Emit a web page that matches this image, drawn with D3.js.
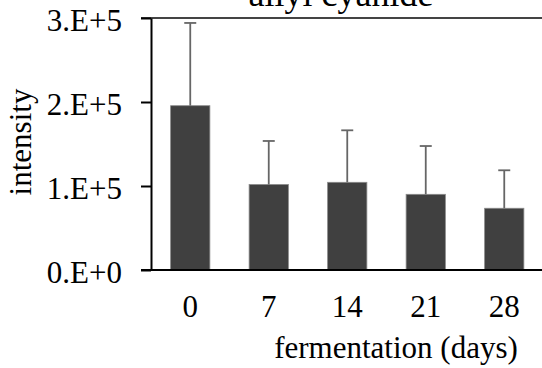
<!DOCTYPE html>
<html>
<head>
<meta charset="utf-8">
<script src="https://cdn.jsdelivr.net/npm/d3@7"></script>
<style>
  html, body { margin: 0; padding: 0; background: #fff; }
  svg { display: block; font-family: "Liberation Serif", "Times New Roman", serif; }
</style>
</head>
<body>
<svg></svg>
<script>
const days = ['0', '7', '14', '21', '28']
const intensity = [195600, 101800, 104400, 90100, 73500]
const errors = [98500, 51800, 61900, 57500, 45200]
const yTicks = [0, 100000, 200000, 300000]
const yTickLabels = ['0.E+0', '1.E+5', '2.E+5', '3.E+5']

let width = 542
let height = 368

let rows = days.map((d, i) => ({ day: d, value: intensity[i], err: errors[i] }))

// y: intensity
let yScale = d3.scaleLinear()
                .domain([0, 300000])
                .range([270, 18])

// x: fermentation day
let xScale = d3.scaleBand()
                .domain(days)
                .range([151, 543.5])
                .paddingInner(0.5)
                .paddingOuter(0.25)

let svg = d3.select('svg')
    .attr('width', width)
    .attr('height', height)

// title (cut off at the top in the original)
svg.append('text')
    .attr('x', 341)
    .attr('y', 6)
    .style('text-anchor', 'middle')
    .style('font-size', '36px')
    .text('allyl cyanide')

// top frame line
svg.append('line')
    .attr('x1', 141)
    .attr('x2', width)
    .attr('y1', yScale(300000))
    .attr('y2', yScale(300000))
    .attr('stroke', '#444')
    .attr('stroke-width', 2)

// bars
svg.selectAll('rect.bar')
  .data(rows)
  .enter()
  .append('rect')
    .attr('class', 'bar')
    .attr('x', d => xScale(d.day))
    .attr('y', d => yScale(d.value))
    .attr('width', xScale.bandwidth())
    .attr('height', d => yScale(0) - yScale(d.value))
    .attr('fill', '#404040')
    .attr('stroke', '#8a8a8a')
    .attr('stroke-width', 0.8)

// error bars (upper only)
let errG = svg.append('g')
    .attr('stroke', '#666')
    .attr('stroke-width', 1.8)

errG.selectAll('line.stem')
  .data(rows)
  .enter()
  .append('line')
    .attr('x1', d => xScale(d.day) + xScale.bandwidth() / 2)
    .attr('x2', d => xScale(d.day) + xScale.bandwidth() / 2)
    .attr('y1', d => yScale(d.value))
    .attr('y2', d => yScale(d.value + d.err))

errG.selectAll('line.cap')
  .data(rows)
  .enter()
  .append('line')
    .attr('x1', d => xScale(d.day) + xScale.bandwidth() / 2 - 6)
    .attr('x2', d => xScale(d.day) + xScale.bandwidth() / 2 + 6)
    .attr('y1', d => yScale(d.value + d.err))
    .attr('y2', d => yScale(d.value + d.err))

// y axis
let yAxis = d3.axisLeft(yScale)
              .tickValues(yTicks)
              .tickFormat((d, i) => yTickLabels[i])
              .tickSize(10)
              .tickSizeOuter(0)
              .tickPadding(19)

let yG = svg.append('g')
    .attr('transform', 'translate(151, 0)')
    .call(yAxis)

yG.select('.domain').attr('stroke', '#000').attr('stroke-width', 2)
yG.selectAll('.tick line').attr('stroke', '#000').attr('stroke-width', 2)
yG.selectAll('.tick text')
    .attr('fill', '#000')
    .attr('dy', '0.4em')
    .style('font-size', '31px')
    .style('font-family', '"Liberation Serif", "Times New Roman", serif')

// x axis
let xAxis = d3.axisBottom(xScale)
              .tickSize(0)
              .tickSizeOuter(0)
              .tickPadding(0)

let xG = svg.append('g')
    .attr('transform', `translate(0, ${yScale(0)})`)
    .call(xAxis)

xG.select('.domain').remove()
xG.selectAll('.tick text')
    .attr('fill', '#000')
    .attr('y', 47)
    .attr('dy', 0)
    .style('font-size', '31px')
    .style('font-family', '"Liberation Serif", "Times New Roman", serif')

// baseline
svg.append('line')
    .attr('x1', 141)
    .attr('x2', width)
    .attr('y1', yScale(0))
    .attr('y2', yScale(0))
    .attr('stroke', '#000')
    .attr('stroke-width', 2)

// y-axis label
svg.append('text')
    .attr('transform', 'rotate(-90)')
    .attr('x', -142)
    .attr('y', 31)
    .style('text-anchor', 'middle')
    .style('font-size', '31px')
    .text('intensity')

// x-axis label
svg.append('text')
    .attr('x', 396)
    .attr('y', 358)
    .style('text-anchor', 'middle')
    .style('font-size', '31px')
    .text('fermentation (days)')
</script>
</body>
</html>
